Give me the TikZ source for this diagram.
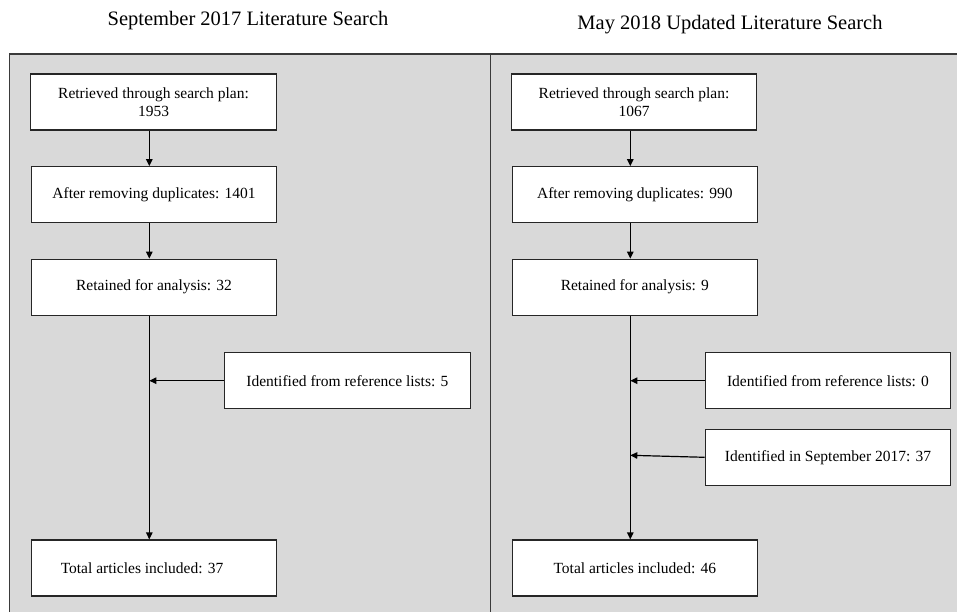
\documentclass[tikz,border=0pt]{standalone}
\usepackage{fontspec}
\setmainfont{Liberation Serif}
\usetikzlibrary{arrows.meta}
\definecolor{panelgray}{HTML}{D9D9D9}
\definecolor{edgegray}{HTML}{3A3A3A}
\begin{document}
\begin{tikzpicture}[x=1pt,y=-1pt,
  stepbox/.style={draw=black!85,line width=1.1pt,fill=white,minimum width=245.5pt,minimum height=56pt,inner sep=0pt,align=center,font=\fontsize{15.5}{18.5}\selectfont},
  titletext/.style={font=\fontsize{20.5}{24}\selectfont,inner sep=0pt},
  flow/.style={line width=1.2pt,-{Triangle[length=7pt,width=6.5pt]}}]
\useasboundingbox (0,0) rectangle (958,612);
\clip (0,0) rectangle (958,612);
\fill[white] (0,0) rectangle (958,612);
\fill[panelgray] (9.5,54) rectangle (957,630);
\draw[edgegray,line width=1.1pt] (9.5,630) -- (9.5,54) -- (957,54);
\draw[edgegray,line width=1.1pt] (490.5,54) -- (490.5,630);
\node[titletext] (t1) at (248,21) {September 2017 Literature Search};
\node[titletext] (t2) at (730,25) {May 2018 Updated Literature Search};
% left panel
\coordinate (lx) at (149.3,0);
\node[stepbox] (a1) at (153.5,102) {Retrieved through search plan:\\1953};
\node[stepbox] (a2) at (154,194.7) {After removing duplicates: 1401};
\node[stepbox] (a3) at (154,287.2) {Retained for analysis: 32};
\node[stepbox] (a4) at (347.3,380.7) {Identified from reference lists: 5};
\node[stepbox] (a5) at (154,568) {\hspace*{-24pt}Total articles included: 37};
\draw[flow] (a1.south -| lx) -- (a2.north -| lx);
\draw[flow] (a2.south -| lx) -- (a3.north -| lx);
\draw[flow] (a3.south -| lx) -- (a5.north -| lx);
\coordinate (aj) at (lx |- a4.west);
\draw[flow] (a4.west) -- (aj);
% right panel
\coordinate (rx) at (630.3,0);
\node[stepbox] (b1) at (634,102) {Retrieved through search plan:\\1067};
\node[stepbox] (b2) at (634.8,194.7) {After removing duplicates: 990};
\node[stepbox] (b3) at (634.8,287.2) {Retained for analysis: 9};
\node[stepbox] (b4) at (828,380.7) {Identified from reference lists: 0};
\node[stepbox] (b5) at (828,457.3) {Identified in September 2017: 37};
\node[stepbox] (b6) at (634.8,568) {Total articles included: 46};
\draw[flow] (b1.south -| rx) -- (b2.north -| rx);
\draw[flow] (b2.south -| rx) -- (b3.north -| rx);
\draw[flow] (b3.south -| rx) -- (b6.north -| rx);
\coordinate (bj1) at (rx |- b4.west);
\coordinate (bj2) at (630.3,455.3);
\draw[flow] (b4.west) -- (bj1);
\draw[flow] (b5.west) -- (bj2);
\end{tikzpicture}
\end{document}
